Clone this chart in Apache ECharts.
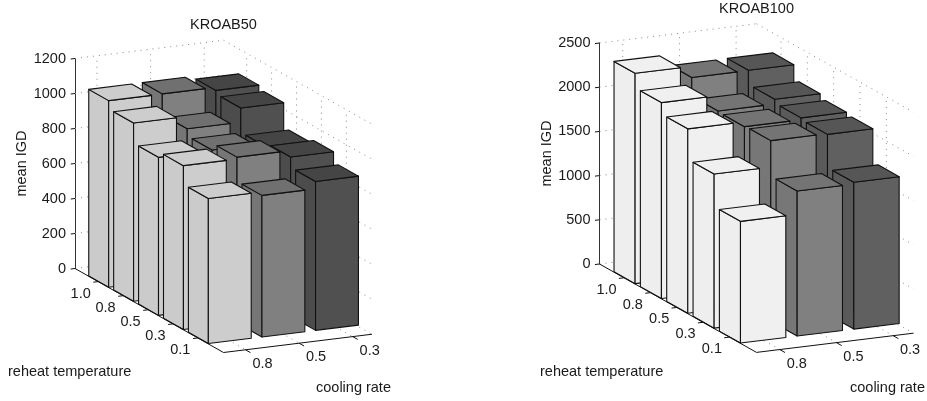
<!DOCTYPE html>
<html><head><meta charset="utf-8">
<style>html,body{margin:0;padding:0;background:#fff}#c{width:927px;height:401px}</style>
<script src="https://cdn.jsdelivr.net/npm/echarts@6/dist/echarts.min.js"></script>
</head><body><div id="c"></div>
<script>
// ---- data ----
const reheatLabels = ['1.0','0.8','0.5','0.3','0.1'];
const coolingLabels = ['0.8','0.5','0.3'];
const kroab50_cool08 = [1066,1019,903,936,829];
const kroab50_cool05 = [1067,948,907,947,809];
const kroab50_cool03 = [1049,1029,889,910,851];
const kroab100_cool08 = [2380,2216,2087,1743,1376];
const kroab100_cool05 = [2254,2043,2033,2043,1641];
const kroab100_cool03 = [2257,2097,2054,2035,1661];
const kroab50Ticks = [0,200,400,600,800,1000,1200];
const kroab100Ticks = [0,500,1000,1500,2000,2500];

// ---- 3D box view ----
const R_MIN=0.07,R_MAX=6.03,C_MIN=0.59,C_MAX=3.36,BAR=0.4;
const DROP_R=0.40,RISE_C=0.087;
const FS=14.5;
const FONT=FS+'px "Liberation Sans", Arial, sans-serif';
const INK='#1a1a1a';
function proj(api,zMax,r,c,z){
  const u=(r-R_MIN)/(R_MAX-R_MIN), v=(c-C_MIN)/(C_MAX-C_MIN);
  return api.coord([(u+v)/2, z+zMax*(-DROP_R*u+RISE_C*v)]);
}
const panels=[
 {title:'KROAB50',cols:[kroab50_cool08,kroab50_cool05,kroab50_cool03],ticks:kroab50Ticks,zMax:1200,
  grid:{left:75,top:58.5,width:297,height:210},titleX:190,titleY:25,rhX:8,rhY:372,crX:316,crY:388,
  colors:[{t:'#cdcdcd',l:'#cbcbcb',r:'#cdcdcd'},{t:'#707070',l:'#767676',r:'#808080'},{t:'#454545',l:'#4c4c4c',r:'#505050'}]},
 {title:'KROAB100',cols:[kroab100_cool08,kroab100_cool05,kroab100_cool03],ticks:kroab100Ticks,zMax:2500,
  grid:{left:599.5,top:43,width:314,height:221},titleX:719,titleY:9,rhX:540,rhY:372,crX:850,crY:388,
  colors:[{t:'#f0f0f0',l:'#eeeeee',r:'#f0f0f0'},{t:'#747474',l:'#777777',r:'#808080'},{t:'#565656',l:'#5a5a5a',r:'#606060'}]}
];

const grid=[],xAxis=[],yAxis=[],series=[],graphic=[],title=[];
panels.forEach((p,pi)=>{
  grid.push(p.grid);
  xAxis.push({gridIndex:pi,type:'value',min:0,max:1,show:false});
  yAxis.push({gridIndex:pi,type:'value',min:0,max:p.zMax,interval:p.ticks[1]-p.ticks[0],
    name:'mean IGD',nameLocation:'middle',nameGap:pi?36:37,
    nameTextStyle:{fontFamily:'Liberation Sans',fontSize:FS,color:INK},
    axisLine:{show:true,lineStyle:{color:'#333',width:1}},axisTick:{show:false},
    splitLine:{show:false},
    axisLabel:{margin:9,fontFamily:'Liberation Sans',fontSize:FS,color:INK,formatter:v=>String(v)}});
  title.push({text:p.title,left:p.titleX,top:p.titleY-8,padding:0,
    textStyle:{fontFamily:'Liberation Sans',fontSize:FS,fontWeight:'normal',color:INK}});
  graphic.push({type:'text',left:p.rhX,top:p.rhY-8,style:{text:'reheat temperature',font:FONT,fill:INK}});
  graphic.push({type:'text',left:p.crX,top:p.crY-8,style:{text:'cooling rate',font:FONT,fill:INK}});

  // frame: dotted wall and floor grid
  const dots=[];
  p.ticks.forEach(z=>{dots.push([R_MIN,C_MIN,z,R_MIN,C_MAX,z]);dots.push([R_MIN,C_MAX,z,R_MAX,C_MAX,z]);});
  reheatLabels.forEach((_,i)=>{const r=i+1;dots.push([r,C_MAX,0,r,C_MAX,p.zMax]);dots.push([r,C_MIN,0,r,C_MAX,0]);});
  coolingLabels.forEach((_,i)=>{const c=i+1;dots.push([R_MIN,c,0,R_MIN,c,p.zMax]);dots.push([R_MIN,c,0,R_MAX,c,0]);});
  series.push({type:'custom',coordinateSystem:'cartesian2d',xAxisIndex:pi,yAxisIndex:pi,silent:true,z:1,
    data:dots,animation:false,
    renderItem:(ps,api)=>{
      const a=proj(api,p.zMax,api.value(0),api.value(1),api.value(2)),b=proj(api,p.zMax,api.value(3),api.value(4),api.value(5));
      return {type:'line',shape:{x1:a[0],y1:a[1],x2:b[0],y2:b[1]},style:{stroke:'#888',lineWidth:1,lineDash:[1,5],fill:null}};
    }});

  // bars, painted back to front
  const bars=[];
  reheatLabels.forEach((_,i)=>{for(let j=coolingLabels.length-1;j>=0;j--)bars.push([i+1,j+1,p.cols[j][i]]);});
  series.push({type:'custom',coordinateSystem:'cartesian2d',xAxisIndex:pi,yAxisIndex:pi,silent:true,z:2,
    data:bars,animation:false,
    renderItem:(ps,api)=>{
      const r=api.value(0),c=api.value(1),z=api.value(2),col=p.colors[c-1];
      const P=(dr,dc,h)=>proj(api,p.zMax,r+dr*BAR,c+dc*BAR,h);
      const L0=P(-1,-1,0),F0=P(1,-1,0),R0=P(1,1,0),L1=P(-1,-1,z),F1=P(1,-1,z),R1=P(1,1,z),B1=P(-1,1,z);
      const s=f=>({fill:f,stroke:'#111',lineWidth:1.1,lineJoin:'round'});
      return {type:'group',children:[
        {type:'polygon',shape:{points:[L0,F0,F1,L1]},style:s(col.l)},
        {type:'polygon',shape:{points:[F0,R0,R1,F1]},style:s(col.r)},
        {type:'polygon',shape:{points:[L1,F1,R1,B1]},style:s(col.t)}
      ]};
    }});

  // solid floor axes with ticks and labels
  const axisItems=[];
  reheatLabels.forEach((t,i)=>axisItems.push([0,i+1,i]));
  coolingLabels.forEach((t,i)=>axisItems.push([1,i+1,i]));
  p.ticks.forEach((t,i)=>axisItems.push([2,t,i]));
  axisItems.push([3,0,0]);
  series.push({type:'custom',coordinateSystem:'cartesian2d',xAxisIndex:pi,yAxisIndex:pi,silent:true,z:3,
    data:axisItems,animation:false,
    renderItem:(ps,api)=>{
      const kind=api.value(0),v=api.value(1),idx=api.value(2);
      const ln=(a,b)=>({type:'line',shape:{x1:a[0],y1:a[1],x2:b[0],y2:b[1]},style:{stroke:'#111',lineWidth:1}});
      const Q=(r,c,z)=>proj(api,p.zMax,r,c,z);
      if(kind===3) return {type:'group',children:[ln(Q(R_MIN,C_MIN,0),Q(R_MAX,C_MIN,0)),ln(Q(R_MAX,C_MIN,0),Q(R_MAX,C_MAX,0))]};
      if(kind===2) return ln(Q(R_MIN,C_MIN-0.08,v),Q(R_MIN,C_MIN,v));
      if(kind===0){
        const a=Q(v,C_MIN,0),b=Q(v,C_MIN-0.09,0);
        return {type:'group',children:[ln(a,b),{type:'text',style:{text:reheatLabels[idx],x:a[0]-17.5,y:a[1]+12,font:FONT,fill:INK,align:'center',verticalAlign:'middle'}}]};
      }
      const a=Q(R_MAX,v,0),b=Q(R_MAX+0.2,v,0);
      return {type:'group',children:[ln(a,b),{type:'text',style:{text:coolingLabels[idx],x:a[0]+17,y:a[1]+14,font:FONT,fill:INK,align:'center',verticalAlign:'middle'}}]};
    }});
});
const chart=echarts.init(document.getElementById('c'),null,{renderer:'canvas'});
chart.setOption({animation:false,backgroundColor:'#fff',title,grid,xAxis,yAxis,series,graphic,tooltip:{show:false}});
</script></body></html>
